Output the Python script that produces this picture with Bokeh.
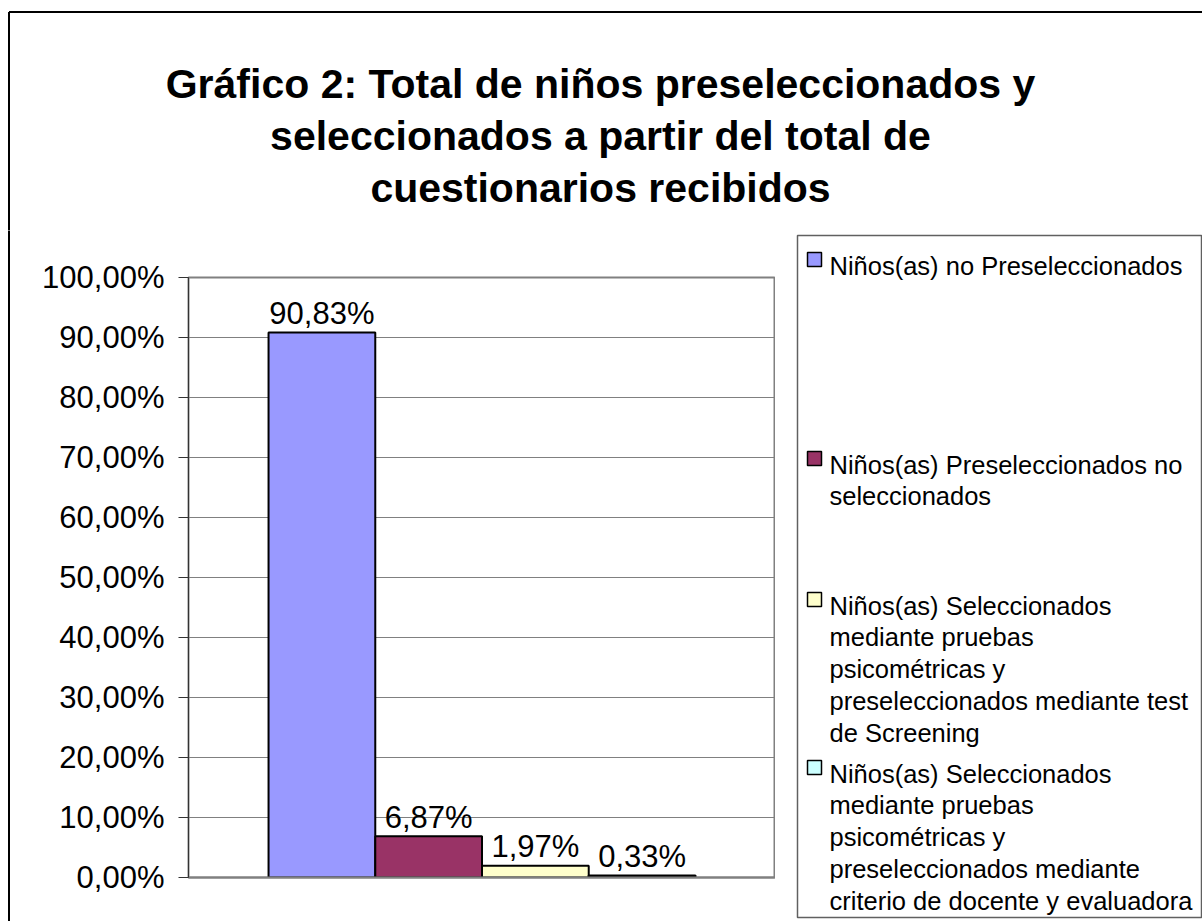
from bokeh.plotting import figure
from bokeh.models import Range1d, FixedTicker
from bokeh.layouts import column, row
from bokeh.core.properties import value
from bokeh.embed import file_html
from bokeh.resources import INLINE

# ---- data ----
series = [
    "Niños(as) no Preseleccionados",
    "Niños(as) Preseleccionados no seleccionados",
    "Niños(as) Seleccionados mediante pruebas psicométricas y preseleccionados mediante test de Screening",
    "Niños(as) Seleccionados mediante pruebas psicométricas y preseleccionados mediante criterio de docente y evaluadora",
]
legend_lines = [
    ["Niños(as) no Preseleccionados"],
    ["Niños(as) Preseleccionados no", "seleccionados"],
    ["Niños(as) Seleccionados", "mediante pruebas", "psicométricas y",
     "preseleccionados mediante test", "de Screening"],
    ["Niños(as) Seleccionados", "mediante pruebas", "psicométricas y",
     "preseleccionados mediante", "criterio de docente y evaluadora"],
]
values = [90.83, 6.87, 1.97, 0.33]
colors = ["#9999FF", "#993366", "#FFFFCC", "#CCFFFF"]
y_ticks = [0, 10, 20, 30, 40, 50, 60, 70, 80, 90, 100]
y_tick_labels = ["0,00%", "10,00%", "20,00%", "30,00%", "40,00%", "50,00%",
                 "60,00%", "70,00%", "80,00%", "90,00%", "100,00%"]
title_lines = ["Gráfico 2: Total de niños preseleccionados y",
               "seleccionados a partir del total de",
               "cuestionarios recibidos"]

value_labels = [("%.2f" % v).replace(".", ",") + "%" for v in values]
xs = [i + 1.25 for i in range(len(values))]

FONT = "Liberation Sans"
TOTAL_W, TOTAL_H = 1202, 921
TOP_H = 230          # height of title strip
LOW_H = TOTAL_H - TOP_H
STRIP_W = 20
MAIN_W = 775 - STRIP_W
LEG_X0 = STRIP_W + MAIN_W
LEG_W = TOTAL_W - LEG_X0
BORDER_X, BORDER_Y = 8.5, 11.5


def blank(w, h, x0, x1, y0, y1):
    f = figure(width=w, height=h, output_backend="svg", toolbar_location=None,
               x_range=Range1d(x0, x1), y_range=Range1d(y1, y0),
               x_axis_type=None, y_axis_type=None, min_border=0,
               frame_align=False)
    f.outline_line_color = None
    f.grid.visible = False
    f.background_fill_color = "white"
    f.border_fill_color = "white"
    return f


# ---- title strip (page coords) ----
t = blank(TOTAL_W, TOP_H, 0, TOTAL_W, 0, TOP_H)
t.segment(x0=[BORDER_X, BORDER_X], y0=[BORDER_Y, BORDER_Y],
          x1=[TOTAL_W + 5, BORDER_X], y1=[BORDER_Y, TOP_H + 5],
          line_color="black", line_width=2)
t.text(x=[600] * 3, y=[83, 135, 187], text=title_lines,
       text_align="center", text_baseline="alphabetic",
       text_font=value(FONT), text_font_size="41px", text_font_style="bold",
       text_color="black")

# ---- left border strip ----
s = blank(STRIP_W, LOW_H, 0, STRIP_W, TOP_H, TOTAL_H)
s.segment(x0=[BORDER_X], y0=[TOP_H - 5], x1=[BORDER_X], y1=[TOTAL_H + 5],
          line_color="black", line_width=2)

# ---- main chart ----
FL, FR, FT, FB = 188, 775, 277, 877   # frame edges in page px
p = figure(width=MAIN_W, height=LOW_H, output_backend="svg", toolbar_location=None,
           x_range=Range1d(0, 5.5), y_range=Range1d(0, 100),
           min_border_left=FL - STRIP_W, min_border_right=STRIP_W + MAIN_W - FR,
           min_border_top=FT - TOP_H, min_border_bottom=TOTAL_H - FB,
           frame_align=False)
p.background_fill_color = "white"
p.border_fill_color = "white"
p.outline_line_color = "#808080"
p.outline_line_width = 2

p.vbar(x=xs, top=values, bottom=0, width=1.0, fill_color=colors,
       line_color="black", line_width=2)
p.text(x=xs, y=values, text=value_labels, y_offset=-19,
       text_align="center", text_baseline="alphabetic",
       text_font=value(FONT), text_font_size="31px", text_color="black")

p.xgrid.visible = False
p.ygrid.grid_line_color = "#808080"
p.ygrid.grid_line_width = 1
p.yaxis.ticker = FixedTicker(ticks=y_ticks)
p.yaxis.major_label_overrides = {tk: lb for tk, lb in zip(y_ticks, y_tick_labels)}
p.yaxis.minor_tick_line_color = None
p.yaxis.major_tick_in = 0
p.yaxis.major_tick_out = 10
p.yaxis.major_tick_line_color = "#333333"
p.yaxis.axis_line_color = "#333333"
p.yaxis.major_label_standoff = 14
p.yaxis.major_label_text_font = FONT
p.yaxis.major_label_text_font_size = "31px"
p.yaxis.major_label_text_color = "black"
p.xaxis.ticker = FixedTicker(ticks=[])
p.xaxis.major_tick_line_color = None
p.xaxis.minor_tick_line_color = None
p.xaxis.axis_line_color = "#808080"
p.xaxis.axis_line_width = 2

# ---- legend (page coords) ----
lg = blank(LEG_W, LOW_H, LEG_X0, TOTAL_W, TOP_H, TOTAL_H)
lg.quad(left=[797], right=[1201], top=[235], bottom=[917],
        fill_color="white", line_color="#606060", line_width=1.5)
first_baselines = [265, 464, 605, 773]
LINE = 31.8
sw_l, sw_r, sw_t, sw_b = [], [], [], []
txt_x, txt_y, txt = [], [], []
for lines, b0 in zip(legend_lines, first_baselines):
    sw_l.append(807); sw_r.append(821); sw_t.append(b0 - 13); sw_b.append(b0 + 1)
    for j, ln in enumerate(lines):
        txt_x.append(829); txt_y.append(b0 + LINE * j); txt.append(ln)
lg.quad(left=sw_l, right=sw_r, top=sw_t, bottom=sw_b, fill_color=colors,
        line_color="black", line_width=1.5)
lg.text(x=txt_x, y=txt_y, text=txt, text_align="left", text_baseline="alphabetic",
        text_font=value(FONT), text_font_size="25.5px", text_color="black")

layout = column(t, row(s, p, lg, spacing=0), spacing=0)
open("out.html", "w").write(file_html(layout, INLINE))
